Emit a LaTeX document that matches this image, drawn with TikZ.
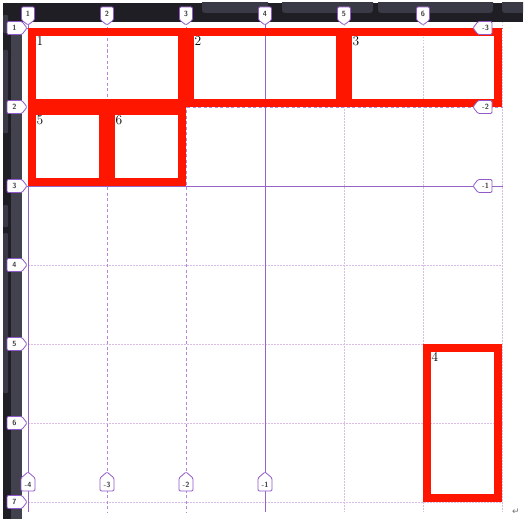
\documentclass[tikz,border=0pt]{standalone}
\usepackage{fontspec}
\usepackage{xcolor}
\usepackage{tikz}
\usetikzlibrary{arrows.meta, positioning}
\newfontfamily\symfont{DejaVu Sans}
\definecolor{itemred}{RGB}{255, 22, 0}
\definecolor{gridpurple}{RGB}{150, 100, 200}
\definecolor{dashpurple}{RGB}{180, 135, 215}
\definecolor{dotpurple}{RGB}{218, 188, 230}
\definecolor{tagpurple}{RGB}{145, 90, 200}
\definecolor{paneldark}{RGB}{30, 30, 36}
\definecolor{panelgray}{RGB}{66, 66, 78}
\definecolor{btngray}{RGB}{58, 58, 70}

\begin{document}
\begin{tikzpicture}[
  x=1pt, y=-1pt,
  itembox/.style={draw=itemred, line width=8pt},
  solidline/.style={gridpurple, line width=0.9pt},
  dashline/.style={dashpurple, line width=0.8pt, dash pattern=on 3pt off 2.5pt},
  dotline/.style={dotpurple, line width=0.8pt, dash pattern=on 1.5pt off 1.5pt},
  tagbox/.style={draw=tagpurple, fill=white, line width=0.8pt, rounded corners=1.2pt},
  tagtext/.style={font=\fontsize{7.5}{8}\sffamily\bfseries, text=black!75, inner sep=0pt},
  itemnum/.style={font=\fontsize{13.5}{13.5}\selectfont, anchor=north west, inner sep=0.5pt},
]
  \useasboundingbox (0,0) rectangle (529,519);
  \fill[white] (0,0) rectangle (529,519);

  % Dark frame of the inspector
  \fill[paneldark] (3,3) rectangle (523,22);
  \fill[paneldark] (3,3) rectangle (22,519);
  \fill[panelgray] (11,22) rectangle (22,519);
  \begin{scope}
    \clip (3,3) rectangle (523,22);
    \foreach \a/\b in {202/268, 282/373, 378/493, 502/540} {
      \fill[btngray, rounded corners=3pt] (\a,-6) rectangle (\b,13);
    }
  \end{scope}
  \foreach \a/\b in {15/33, 50/133, 205/227, 233/393} {
    \fill[btngray, rounded corners=1pt] (3,\a) rectangle (8,\b);
  }

  % Grid lines (tracks of 79px, line 1 at 28)
  \foreach \i in {5,6,7} {
    \draw[dotline] (28+79*\i-79,22) -- (28+79*\i-79,512);
  }
  \foreach \j in {4,...,7} {
    \draw[dotline] (22,28+79*\j-79) -- (503,28+79*\j-79);
  }
  \draw[dashline] (107,22) -- (107,512);
  \draw[dashline] (186,22) -- (186,512);
  \draw[dashline] (22,107) -- (503,107);
  \draw[solidline] (28,22) -- (28,512);
  \draw[solidline] (265,22) -- (265,512);
  \draw[solidline] (22,28) -- (503,28);
  \draw[solidline] (22,186) -- (503,186);

  % Grid items
  \draw[itembox] (32,32) rectangle (182,103);    % 1: col 1-3, row 1-2
  \draw[itembox] (190,32) rectangle (340,103);   % 2: col 3-5, row 1-2
  \draw[itembox] (348,32) rectangle (498,103);   % 3: col 5-7, row 1-2
  \draw[itembox] (427,348) rectangle (498,498);  % 4: col 6-7, row 5-7
  \draw[itembox] (32,111) rectangle (103,182);   % 5: col 1-2, row 2-3
  \draw[itembox] (111,111) rectangle (182,182);  % 6: col 2-3, row 2-3

  \node[itemnum] (num1) at (36,36) {1};
  \node[itemnum] (num2) at (194,36) {2};
  \node[itemnum] (num3) at (352,36) {3};
  \node[itemnum] (num4) at (431,352) {4};
  \node[itemnum] (num5) at (36,115) {5};
  \node[itemnum] (num6) at (115,115) {6};

  % Column numbers (top)
  \foreach \i in {1,...,6} {
    \pgfmathsetmacro{\cx}{28+79*(\i-1)}
    \draw[tagbox] (\cx-6.5,7) -- (\cx+6.5,7) -- (\cx+6.5,20) -- (\cx,25) -- (\cx-6.5,20) -- cycle;
    \node[tagtext] (coltop\i) at (\cx,13.5) {\i};
  }

  % Row numbers (left)
  \foreach \j in {1,...,7} {
    \pgfmathsetmacro{\cy}{28+79*(\j-1)}
    \draw[tagbox] (7,\cy-6.5) -- (22,\cy-6.5) -- (27,\cy) -- (22,\cy+6.5) -- (7,\cy+6.5) -- cycle;
    \node[tagtext] (rowleft\j) at (14.5,\cy) {\j};
  }

  % Negative column numbers (bottom)
  \foreach \i/\lab in {1/-4, 2/-3, 3/-2, 4/-1} {
    \pgfmathsetmacro{\cx}{28+79*(\i-1)}
    \draw[tagbox] (\cx-7,478) -- (\cx,472) -- (\cx+7,478) -- (\cx+7,491) -- (\cx-7,491) -- cycle;
    \node[tagtext] (colbot\i) at (\cx,484.5) {\lab};
  }

  % Negative row numbers (right)
  \foreach \j/\lab in {1/-3, 2/-2, 3/-1} {
    \pgfmathsetmacro{\cy}{28+79*(\j-1)}
    \draw[tagbox] (473,\cy) -- (478,\cy-6.5) -- (492,\cy-6.5) -- (492,\cy+6.5) -- (478,\cy+6.5) -- cycle;
    \node[tagtext] (rowright\j) at (485.5,\cy) {\lab};
  }

  % Paragraph mark
  \node[font=\symfont\fontsize{9}{9}\selectfont, text=black!55, inner sep=0pt] (retmark) at (516,512) {↵};

\end{tikzpicture}
\end{document}
